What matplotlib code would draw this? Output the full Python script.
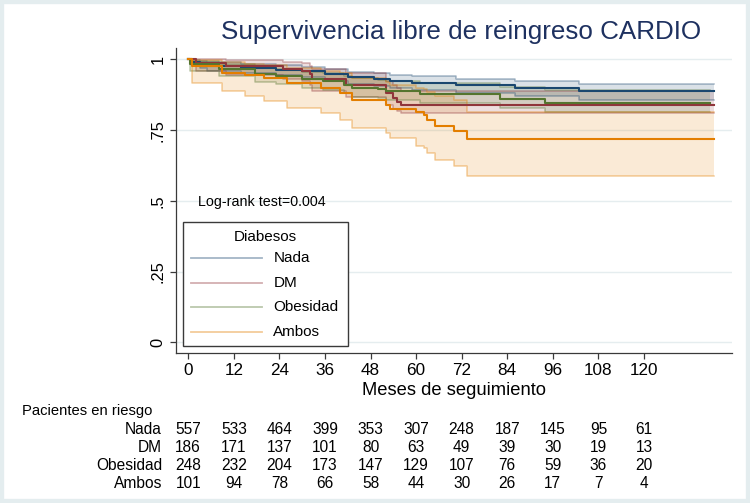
import matplotlib
matplotlib.use("Agg")
import matplotlib.pyplot as plt
import matplotlib.transforms as mtransforms
from matplotlib.patches import Rectangle
from matplotlib.lines import Line2D

plt.rcParams['font.family'] = ['Liberation Sans', 'DejaVu Sans']

# ---------------- data ----------------
groups = ["Nada", "DM", "Obesidad", "Ambos"]

nada_t = [0, 1, 3, 5, 14, 23, 30, 36, 42, 49, 53, 59, 70.5, 86, 103, 138.5]
nada_s = [1.0, 0.990, 0.982, 0.976, 0.970, 0.964, 0.958, 0.948, 0.937, 0.930, 0.924, 0.918, 0.908, 0.900, 0.887, 0.887]
nada_hi = [1.0, 0.998, 0.993, 0.989, 0.984, 0.979, 0.974, 0.966, 0.956, 0.950, 0.945, 0.940, 0.931, 0.925, 0.914, 0.914]
nada_lo = [1.0, 0.979, 0.968, 0.960, 0.952, 0.944, 0.937, 0.925, 0.913, 0.905, 0.898, 0.891, 0.880, 0.870, 0.857, 0.857]

dm_t = [0, 2, 10, 25, 30, 32, 32.5, 41.5, 52, 54, 55, 56, 138.5]
dm_s = [1.0, 0.988, 0.976, 0.965, 0.959, 0.947, 0.929, 0.908, 0.882, 0.864, 0.850, 0.837, 0.837]
dm_hi = [1.0, 1.0, 0.997, 0.990, 0.986, 0.978, 0.965, 0.950, 0.925, 0.910, 0.898, 0.888, 0.888]
dm_lo = [1.0, 0.960, 0.945, 0.930, 0.922, 0.908, 0.888, 0.866, 0.840, 0.826, 0.818, 0.811, 0.811]

ob_t = [0, 0.5, 8, 17.5, 23, 30, 35.5, 41, 43, 50, 52, 61, 82, 94, 137.5]
ob_s = [1.0, 0.982, 0.965, 0.947, 0.941, 0.929, 0.923, 0.911, 0.900, 0.894, 0.888, 0.878, 0.860, 0.845, 0.845]
ob_hi = [1.0, 0.995, 0.985, 0.972, 0.967, 0.957, 0.952, 0.942, 0.933, 0.928, 0.923, 0.915, 0.903, 0.892, 0.892]
ob_lo = [1.0, 0.960, 0.940, 0.920, 0.913, 0.900, 0.893, 0.880, 0.868, 0.862, 0.856, 0.845, 0.828, 0.814, 0.814]

am_t = [0, 1, 9, 15, 20, 26, 35, 40, 43, 52, 53, 60, 62, 63, 65, 70, 73.5, 138.5]
am_s = [1.0, 0.975, 0.953, 0.944, 0.935, 0.917, 0.900, 0.882, 0.858, 0.840, 0.823, 0.814, 0.805, 0.787, 0.765, 0.745, 0.720, 0.720]
am_hi = [1.0, 0.997, 0.990, 0.985, 0.980, 0.970, 0.960, 0.950, 0.935, 0.920, 0.910, 0.900, 0.895, 0.885, 0.870, 0.855, 0.815, 0.815]
am_lo = [1.0, 0.917, 0.888, 0.870, 0.852, 0.828, 0.810, 0.787, 0.758, 0.740, 0.722, 0.693, 0.685, 0.669, 0.645, 0.623, 0.588, 0.588]

x_ticks = [0, 12, 24, 36, 48, 60, 72, 84, 96, 108, 120]
y_ticks = [0, 0.25, 0.5, 0.75, 1]
y_ticklabels = ["0", ".25", ".5", ".75", "1"]

risk_nada = [557, 533, 464, 399, 353, 307, 248, 187, 145, 95, 61]
risk_dm = [186, 171, 137, 101, 80, 63, 49, 39, 30, 19, 13]
risk_ob = [248, 232, 204, 173, 147, 129, 107, 76, 59, 36, 20]
risk_am = [101, 94, 78, 66, 58, 44, 30, 26, 17, 7, 4]

# ---------------- styling ----------------
colors = ["#1a476f", "#90353b", "#55752f", "#e37e00"]
W, H = 750, 503


def fx(px):
    return px / W


def fy(py):
    return 1 - py / H


fig = plt.figure(figsize=(7.5, 5.03), dpi=100)
fig.patch.set_facecolor("white")

ax = fig.add_axes([fx(175.7), fy(353.3), fx(731.7) - fx(175.7), fy(48.3) - fy(353.3)])
ax.set_xlim(-3.3, 143.1)
ax.set_ylim(-0.039, 1.039)

series = [
    (nada_t, nada_s, nada_lo, nada_hi),
    (dm_t, dm_s, dm_lo, dm_hi),
    (ob_t, ob_s, ob_lo, ob_hi),
    (am_t, am_s, am_lo, am_hi),
]

for (t, s, lo, hi), c in zip(series, colors):
    ax.fill_between(t, lo, hi, step="post", color=c, alpha=0.16, lw=0, zorder=2)
for (t, s, lo, hi), c in zip(series, colors):
    ax.step(t, lo, where="post", color=c, alpha=0.38, lw=1.1, zorder=3)
    ax.step(t, hi, where="post", color=c, alpha=0.38, lw=1.1, zorder=3)
for (t, s, lo, hi), c in zip(series, colors):
    ax.step(t, s, where="post", color=c, lw=1.5, zorder=4)

for side in ["top", "right"]:
    ax.spines[side].set_visible(False)
for side in ["left", "bottom"]:
    ax.spines[side].set_color("#3a3a3a")
    ax.spines[side].set_linewidth(0.9)

ax.set_xticks(x_ticks)
ax.set_xticklabels([str(v) for v in x_ticks])
ax.set_yticks(y_ticks)
ax.set_yticklabels(y_ticklabels, rotation=90, va="center")
ax.tick_params(axis="both", direction="out", length=4.3, width=0.9,
               color="#3a3a3a", labelcolor="black")
ax.tick_params(axis="x", pad=3, labelsize=12.3)
ax.tick_params(axis="y", pad=3, labelsize=11.8)
ax.yaxis.grid(True, color="#e5edef", lw=1.0)
ax.set_axisbelow(True)

# texts
fig.text(fx(461), fy(31.5), "Supervivencia libre de reingreso CARDIO",
         ha="center", va="center", fontsize=18.7, color="#1e3160")
fig.text(fx(453.7), fy(390.7), "Meses de seguimiento", ha="center", va="center",
         fontsize=13.2, color="black")
fig.text(fx(198.3), fy(201.7), "Log-rank test=0.004", ha="left", va="center",
         fontsize=10.3, color="black")

# legend (manual box)
fig.add_artist(Rectangle((fx(183.3), fy(345.7)), fx(348.3) - fx(183.3), fy(221.7) - fy(345.7),
                         transform=fig.transFigure, facecolor="white",
                         edgecolor="#3a3a3a", lw=1.0, zorder=5))
fig.text(fx(265.8), fy(236.7), "Diabesos", ha="center", va="center", fontsize=11, zorder=6)
leg_rows = [258.3, 282.7, 307.0, 331.7]
for g, c, ry in zip(groups, colors, leg_rows):
    fig.add_artist(Line2D([fx(191), fx(262)], [fy(ry), fy(ry)], transform=fig.transFigure,
                          color=c, alpha=0.4, lw=1.3, zorder=6))
    fig.text(fx(273.3), fy(ry), g, ha="left", va="center", fontsize=11, zorder=6)

# risk table
blend = mtransforms.blended_transform_factory(ax.transData, fig.transFigure)
fig.text(fx(22), fy(411.5), "Pacientes en riesgo", ha="left", va="center", fontsize=10.6)
risk_rows = [429.5, 447.5, 465.5, 483.5]
for g, vals, ry in zip(groups, [risk_nada, risk_dm, risk_ob, risk_am], risk_rows):
    fig.text(fx(162), fy(ry), g, ha="right", va="center", fontsize=11.2)
    for xt, v in zip(x_ticks, vals):
        ax.text(xt, fy(ry), str(v), transform=blend, ha="center", va="center",
                fontsize=11.2, clip_on=False)

# light outer frame
fig.add_artist(Rectangle((0, 0), 1, 1, transform=fig.transFigure, fill=False,
                         edgecolor="#e4edef", lw=6, zorder=10))

fig.savefig("out.png", dpi=100)
